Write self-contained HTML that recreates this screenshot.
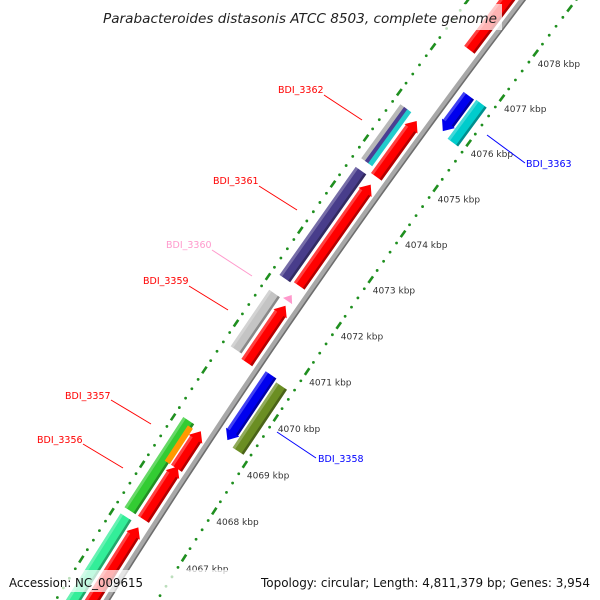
<!DOCTYPE html>
<html><head><meta charset="utf-8"><style>
html,body{margin:0;padding:0;background:#fff;overflow:hidden}
svg{display:block}
text{font-family:"DejaVu Sans","Liberation Sans",sans-serif}
</style></head><body>
<svg id="chart" width="600" height="600" viewBox="0 0 600 600" xmlns="http://www.w3.org/2000/svg">
<g id="rulers"></g>
<g id="backbone"></g>
<g id="genes"></g>
<g id="kbp-labels"></g>
<g font-size="9.5">
 <g><text x="278" y="93" fill="#ff0000">BDI_3362</text><line x1="324" y1="95" x2="362" y2="120" stroke="#ff0000" stroke-width="1"/></g>
 <g><text x="213" y="184" fill="#ff0000">BDI_3361</text><line x1="259" y1="186" x2="297" y2="210" stroke="#ff0000" stroke-width="1"/></g>
 <g><text x="166" y="248" fill="#ff99cc">BDI_3360</text><line x1="212" y1="250" x2="252" y2="276" stroke="#ff99cc" stroke-width="1"/></g>
 <g><text x="143" y="284" fill="#ff0000">BDI_3359</text><line x1="189" y1="286" x2="228" y2="310" stroke="#ff0000" stroke-width="1"/></g>
 <g><text x="65" y="399" fill="#ff0000">BDI_3357</text><line x1="111" y1="400" x2="151" y2="424" stroke="#ff0000" stroke-width="1"/></g>
 <g><text x="37" y="443" fill="#ff0000">BDI_3356</text><line x1="83" y1="444" x2="123" y2="468" stroke="#ff0000" stroke-width="1"/></g>
 <g><text x="526" y="167" fill="#0000ff">BDI_3363</text><line x1="487" y1="135" x2="525" y2="163" stroke="#0000ff" stroke-width="1"/></g>
 <g><text x="318" y="462" fill="#0000ff">BDI_3358</text><line x1="277" y1="432" x2="316" y2="458" stroke="#0000ff" stroke-width="1"/></g>
</g>
<rect x="100" y="4" width="402" height="26" fill="#fff" opacity="0.7"/>
<text x="300" y="23" text-anchor="middle" font-size="13" font-style="italic" fill="#222" textLength="394" lengthAdjust="spacingAndGlyphs">Parabacteroides distasonis ATCC 8503, complete genome</text>
<rect x="4" y="570" width="592" height="22" fill="#fff" opacity="0.7"/>
<text x="9" y="587" font-size="12" fill="#111" textLength="134" lengthAdjust="spacingAndGlyphs">Accession: NC_009615</text>
<text x="261" y="587" font-size="12" fill="#111" textLength="329" lengthAdjust="spacingAndGlyphs">Topology: circular; Length: 4,811,379 bp; Genes: 3,954</text>
</svg>
<script>
// ---- data ----
const geneNames  = ['top-red','bdi-3362-red','bdi-3361-red','bdi-3359-red','bdi-3357-red','bdi-3356-red','bottom-red','bdi-3360',
  'bdi-3362-gray','bdi-3362-purple','bdi-3362-cyan','bdi-3361','bdi-3359','bdi-3356','bdi-3357','bottom-mint',
  'bdi-3363-blue','bdi-3358-blue','bdi-3363','bdi-3358'];
const geneStart  = [4077.34,4074.55,4072.18,4070.53,4068.27,4067.19,4065.0,4071.84,
  4074.66,4074.66,4074.66,4072.14,4070.61,4067.19,4068.27,4065.0,
  4075.9,4069.19,4075.84,4069.13];
const geneEnd    = [4079.5,4075.77,4074.38,4071.75,4069.06,4068.31,4067.02,4071.97,
  4075.84,4075.84,4075.84,4074.48,4071.82,4069.1,4069.02,4067.06,
  4076.68,4070.59,4076.7,4070.53];
const geneStrand = [1,1,1,1,1,1,1,1, 0,0,0,0,0,0,0,0, -1,-1,0,0];
const geneColor  = ['#ff0000','#ff0000','#ff0000','#ff0000','#ff0000','#ff0000','#ff0000','#ff99cc',
  '#b8b8b8','#4b3f92','#22cccc','#483d8b','#c4c4c4','#33cc33','#ff9900','#33ee99',
  '#0000ee','#0000ee','#00cccc','#6b8e23'];
const geneTrack  = [55,55,55,55,55,55,55,56, 75,71,67,71,71,71,66,71, 28,28,13,13];
const geneHalf   = [6.5,6.5,6.5,6.5,6.5,6.5,6.5,4, 3,2.5,2.5,6.5,6.5,6.5,3,6.5, 6.5,6.5,6.5,6.5];
const tickLabels = [4067,4068,4069,4070,4071,4072,4073,4074,4075,4076,4077,4078];

// ---- axis functions ----
const K0 = 4067;
function R(k){const t=k-K0;return [184+30.1*t+0.17*t*t, 558-47*t+0.1*t*t];}
function T(k){const t=k-K0;const a=30.1+0.34*t,b=-47+0.2*t;const l=Math.hypot(a,b);return [a/l,b/l];}
function P(k,u){const r=R(k),d=T(k);return [r[0]+u*d[1], r[1]-u*d[0]];}
const NS='http://www.w3.org/2000/svg';
function mk(tag,attrs,parent){const e=document.createElementNS(NS,tag);for(const k in attrs)e.setAttribute(k,attrs[k]);parent.appendChild(e);return e;}
function pts(a){return a.map(p=>p[0].toFixed(1)+','+p[1].toFixed(1)).join(' ');}

// rulers
const rul=document.getElementById('rulers');
[0,86].forEach((u,ri)=>{
  for(let i=-20;i<=70;i++){
    const k=K0+i*0.2;
    const p=P(k,u);
    if(i%5===0){
      const d=T(k);
      const e=mk('line',{x1:p[0]-d[0]*4,y1:p[1]-d[1]*4,x2:p[0]+d[0]*4,y2:p[1]+d[1]*4,stroke:'#1f8f1f','stroke-width':2.6},rul);
      
      
    } else {
      const e=mk('circle',{cx:p[0],cy:p[1],r:1.4,fill:'#1f8f1f'},rul);
      
      
    }
  }
});

// backbone
const bb=document.getElementById('backbone');
const bpts1=[],bpts2=[];
for(let k=K0-3;k<=K0+13;k+=0.5){bpts1.push(P(k,43));bpts2.push(P(k,40.5));}
let e=mk('polyline',{points:pts(bpts1),fill:'none',stroke:'#a8a8a8','stroke-width':5},bb);


e=mk('polyline',{points:pts(bpts2),fill:'none',stroke:'#6e6e6e','stroke-width':1.6},bb);



// genes
const gg=document.getElementById('genes');
const HEAD=0.17;
geneNames.forEach((name,i)=>{
  const s=geneStart[i],en=geneEnd[i],u=geneTrack[i],h=geneHalf[i],st=geneStrand[i];
  let poly;
  const hl=Math.min(HEAD,(en-s));
  if(st===1){
    const b=en-hl;
    poly=[P(s,u+h),P(b,u+h),P(b,u+h+1.5),P(en,u),P(b,u-h-1.5),P(b,u-h),P(s,u-h)];
  } else if(st===-1){
    const b=s+hl;
    poly=[P(en,u+h),P(b,u+h),P(b,u+h+1.5),P(s,u),P(b,u-h-1.5),P(b,u-h),P(en,u-h)];
  } else {
    poly=[P(s,u+h),P(en,u+h),P(en,u-h),P(s,u-h)];
  }
  const g=mk('g',{},gg);
  
  
  mk('polygon',{points:pts(poly),fill:geneColor[i]},g);
  if(h>=4){
    const e1=(st===1)?en-hl:en, s1=(st===-1)?s+hl:s;
    mk('polygon',{points:pts([P(s1,u-h),P(e1,u-h),P(e1,u-h+2.5),P(s1,u-h+2.5)]),fill:'#000',opacity:0.3},g);
    mk('polygon',{points:pts([P(s1,u+h),P(e1,u+h),P(e1,u+h-3),P(s1,u+h-3)]),fill:'#fff',opacity:0.25},g);
  }
});

// kbp labels
const kl=document.getElementById('kbp-labels');
tickLabels.forEach(k=>{
  const p=R(k);
  const t=mk('text',{x:p[0]+2,y:p[1]+14,'font-size':9,fill:'#333'},kl);
  t.textContent=k+' kbp';
  
  
});
</script>
</body></html>
